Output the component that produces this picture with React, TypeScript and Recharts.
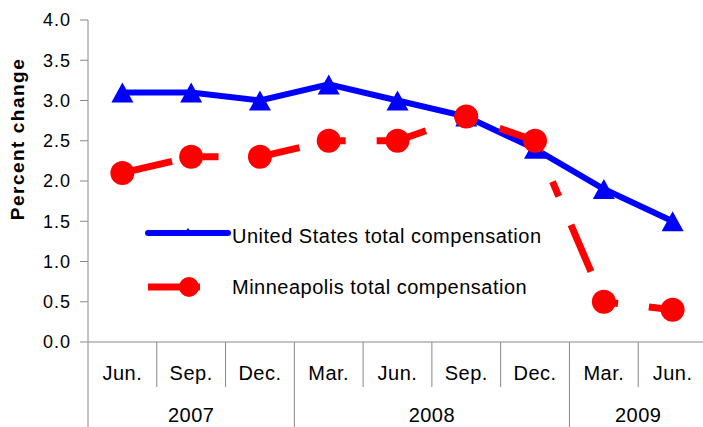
import React from "react";
import { LineChart, Line, XAxis, YAxis, Legend, Label } from "recharts";

const months = ["Jun.", "Sep.", "Dec.", "Mar.", "Jun.", "Sep.", "Dec.", "Mar.", "Jun."];
const years = ["2007", "2007", "2007", "2008", "2008", "2008", "2008", "2009", "2009"];
const usComp = [3.1, 3.1, 3.0, 3.2, 3.0, 2.8, 2.4, 1.9, 1.5];
const mplsComp = [2.1, 2.3, 2.3, 2.5, 2.5, 2.8, 2.5, 0.5, 0.4];
const yTicks = [0, 0.5, 1.0, 1.5, 2.0, 2.5, 3.0, 3.5, 4.0];
const seriesNames = ["United States total compensation", "Minneapolis total compensation"];

const data = months.map((m, i) => ({ month: m, year: years[i], us: usComp[i], mpls: mplsComp[i] }));

const W = 703;
const H = 427;
const Y_W = 88;
const M_RIGHT = -4;
const BAND = (W - Y_W - M_RIGHT) / months.length;
const FONT = "'Liberation Sans', Arial, sans-serif";
const AXIS = "#888888";

const MonthTick = (props: any) => {
  const { x, y, payload } = props;
  const i = props.index ?? payload.index;
  const left = x - BAND / 2;
  const startsYear = i === 0 || years[i] !== years[i - 1];
  let yearLabel = null;
  if (startsYear) {
    let n = 0;
    while (i + n < years.length && years[i + n] === years[i]) n++;
    yearLabel = (
      <text x={left + (n * BAND) / 2} y={y + 80} textAnchor="middle" fontSize={20} letterSpacing={0.5} fill="#000" fontFamily={FONT}>
        {years[i]}
      </text>
    );
  }
  const last = i === months.length - 1;
  return (
    <g>
      <line x1={left} x2={left} y1={y} y2={startsYear ? y + 85 : y + 45} stroke={AXIS} strokeWidth={1} />
      {last && <line x1={x + BAND / 2} x2={x + BAND / 2} y1={y} y2={y + 85} stroke={AXIS} strokeWidth={1} />}
      <text x={x} y={y + 38} textAnchor="middle" fontSize={20} letterSpacing={0.5} fill="#000" fontFamily={FONT}>
        {payload.value}
      </text>
      {yearLabel}
    </g>
  );
};

const TriangleDot = (props: any) => {
  const { cx, cy, index } = props;
  return <path key={"t" + index} d={`M${cx},${cy - 10} L${cx + 11},${cy + 10} L${cx - 11},${cy + 10} Z`} fill="#0000FF" />;
};

const CircleDot = (props: any) => {
  const { cx, cy, index } = props;
  return <circle key={"c" + index} cx={cx} cy={cy} r={12} fill="#FF0000" />;
};

const LegendBox = () => (
  <svg width={420} height={90} style={{ display: "block" }}>
    <line x1={8} x2={88} y1={18} y2={18} stroke="#0000FF" strokeWidth={6} strokeLinecap="round" />
    <path d="M48,13 L52,18 L44,18 Z" fill="#0000FF" />
    <text x={92} y={28} fontSize={20} letterSpacing={0.5} fill="#000" fontFamily={FONT}>
      {seriesNames[0]}
    </text>
    <line x1={8} x2={60} y1={72} y2={72} stroke="#FF0000" strokeWidth={7} />
    <circle cx={49} cy={72} r={10} fill="#FF0000" />
    <text x={92} y={79} fontSize={20} letterSpacing={0.5} fill="#000" fontFamily={FONT}>
      {seriesNames[1]}
    </text>
  </svg>
);

export default function App() {
  return (
    <div style={{ position: "absolute", left: 0, top: 0, width: W, height: H, background: "#fff" }}>
      <LineChart width={W} height={H} data={data} margin={{ top: 20, right: M_RIGHT, left: 0, bottom: 0 }}>
        <XAxis
          dataKey="month"
          interval={0}
          tickLine={false}
          tickSize={0}
          tickMargin={0}
          height={85}
          padding={{ left: BAND / 2, right: BAND / 2 }}
          stroke={AXIS}
          tick={<MonthTick />}
        />
        <YAxis
          domain={[0, 4]}
          ticks={yTicks}
          tickFormatter={(v: number) => v.toFixed(1)}
          width={Y_W}
          tickSize={8}
          tickMargin={9}
          stroke={AXIS}
          tick={{ fill: "#000", fontSize: 18, fontFamily: FONT, letterSpacing: 1 }}
        >
          <Label
            content={() => (
              <text
                x={17}
                y={139}
                transform="rotate(-90 17 139)"
                textAnchor="middle"
                dominantBaseline="central"
                fontSize={19}
                fontWeight="bold"
                letterSpacing={1.5}
                fill="#000"
                fontFamily={FONT}
              >
                Percent change
              </text>
            )}
          />
        </YAxis>
        <Legend
          layout="vertical"
          verticalAlign="middle"
          align="center"
          wrapperStyle={{ left: 140, top: 215, width: 420, height: 90 }}
          content={() => <LegendBox />}
        />
        <Line
          dataKey="us"
          name={seriesNames[0]}
          stroke="#0000FF"
          strokeWidth={6}
          dot={<TriangleDot />}
          activeDot={false}
          isAnimationActive={false}
        />
        <Line
          dataKey="mpls"
          name={seriesNames[1]}
          stroke="#FF0000"
          strokeWidth={7}
          strokeDasharray="51 31 16 31"
          dot={<CircleDot />}
          activeDot={false}
          isAnimationActive={false}
        />
      </LineChart>
    </div>
  );
}
